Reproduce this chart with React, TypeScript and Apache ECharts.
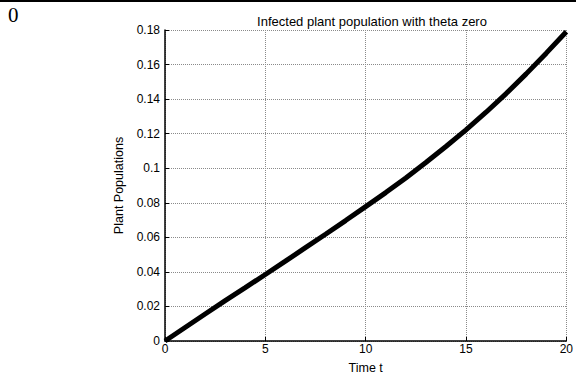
import React, { useEffect, useRef } from "react";
import * as echarts from "echarts";

// Infected plant population over time (theta = 0)
const timeT: number[] = [0, 1, 2, 3, 4, 5, 6, 7, 8, 9, 10, 11, 12, 13, 14, 15, 16, 17, 18, 19, 20];
const infected: number[] = [
  0, 0.0078, 0.0156, 0.0234, 0.0309, 0.0385, 0.0462, 0.054, 0.0618, 0.0697, 0.0778,
  0.0859, 0.0944, 0.1033, 0.1126, 0.1222, 0.1324, 0.1432, 0.1546, 0.1666, 0.179,
];

const titleText = "Infected plant population with theta zero";
const xName = "Time t";
const yName = "Plant Populations";

export default function App() {
  const ref = useRef<HTMLDivElement>(null);

  useEffect(() => {
    if (!ref.current) return;
    const chart = echarts.init(ref.current, null, { renderer: "svg" });
    const font = "Liberation Sans, Arial, sans-serif";
    chart.setOption({
      animation: false,
      backgroundColor: "#ffffff",
      title: {
        text: titleText,
        left: 367,
        top: 10,
        textAlign: "center",
        textStyle: { fontSize: 13, fontWeight: "normal", color: "#000", fontFamily: font },
      },
      grid: { left: 165, right: 7, top: 30, bottom: 35, containLabel: false },
      xAxis: {
        type: "value",
        min: 0,
        max: 20,
        interval: 5,
        name: xName,
        nameLocation: "middle",
        nameGap: 20,
        nameTextStyle: { fontSize: 12.5, color: "#000", fontFamily: font },
        axisLine: { show: true, lineStyle: { color: "#000", width: 1.5 } },
        axisTick: { show: true, inside: true, length: 4, lineStyle: { color: "#000" } },
        axisLabel: { fontSize: 12, color: "#000", fontFamily: font, margin: 2 },
        splitLine: { show: true, lineStyle: { color: "#8a8a8a", type: [1, 1], width: 1 } },
      },
      yAxis: {
        type: "value",
        min: 0,
        max: 0.18,
        interval: 0.02,
        name: yName,
        nameLocation: "middle",
        nameGap: 37,
        nameTextStyle: { fontSize: 12.5, color: "#000", fontFamily: font },
        axisLine: { show: true, lineStyle: { color: "#000", width: 1.5 } },
        axisTick: { show: true, inside: true, length: 4, lineStyle: { color: "#000" } },
        axisLabel: { fontSize: 12, color: "#000", fontFamily: font, margin: 5 },
        splitLine: { show: true, lineStyle: { color: "#8a8a8a", type: [1, 1], width: 1 } },
      },
      series: [
        {
          type: "line",
          data: timeT.map((t, i) => [t, infected[i]]),
          showSymbol: false,
          lineStyle: { color: "#000", width: 5 },
          clip: false,
        },
      ],
      graphic: [
        {
          type: "rect",
          shape: { x: 0, y: 0, width: 576, height: 2 },
          style: { fill: "#000" },
        },
        {
          type: "text",
          x: 8,
          y: 4,
          style: {
            text: "0",
            fontFamily: "Liberation Serif, Times New Roman, serif",
            fontSize: 21,
            fill: "#000",
            textVerticalAlign: "top",
          },
        },
      ],
    });
    return () => chart.dispose();
  }, []);

  return (
    <div
      ref={ref}
      style={{ position: "fixed", left: 0, top: 0, width: 576, height: 379 }}
    />
  );
}
